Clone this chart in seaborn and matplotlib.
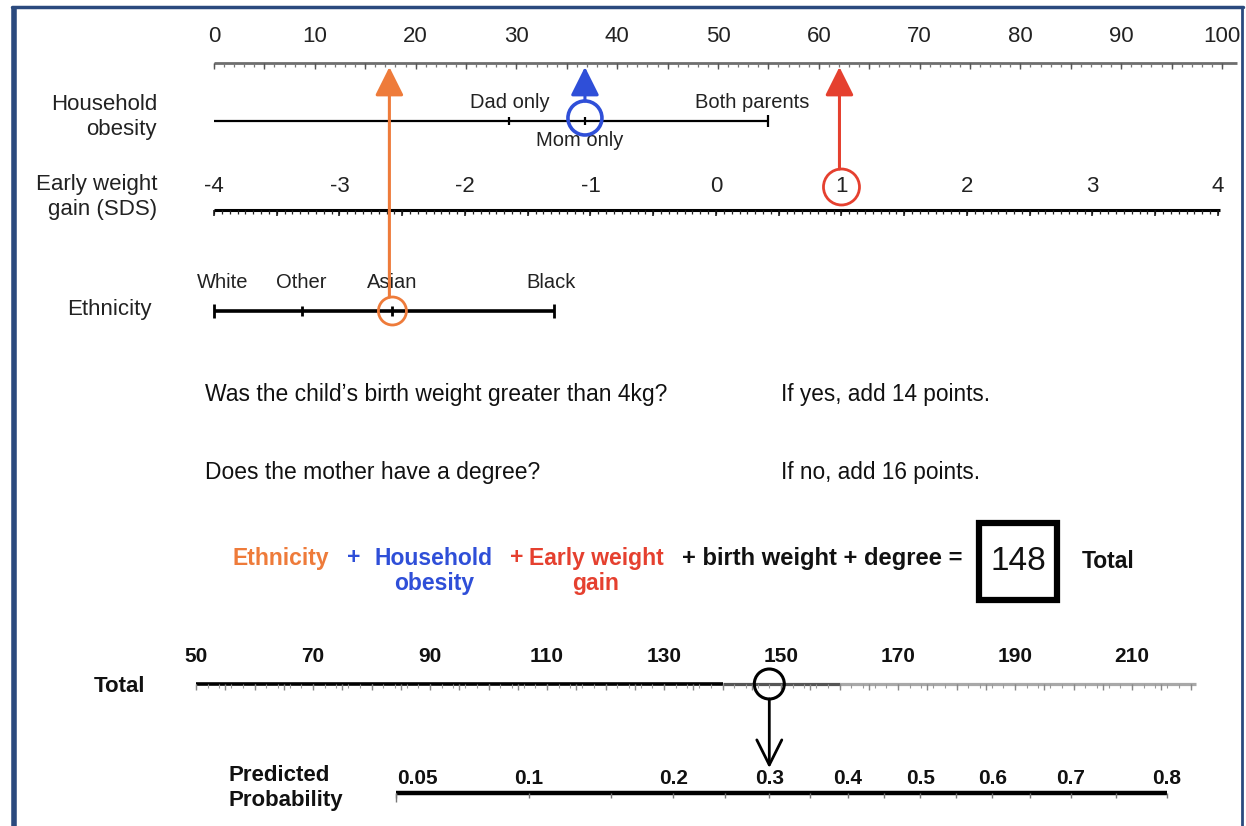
import numpy as np
import pandas as pd
import matplotlib
matplotlib.use("Agg")
import matplotlib.pyplot as plt
from matplotlib.patches import Rectangle, Ellipse
import seaborn as sns

# ---------------- data ----------------
points_ticks = [0, 10, 20, 30, 40, 50, 60, 70, 80, 90, 100]
weight_gain_ticks = [-4, -3, -2, -1, 0, 1, 2, 3, 4]
household_labels = ["Dad only", "Mom only", "Both parents"]
household_points = [29.3, 36.8, 55.0]
ethnicity_labels = ["White", "Other", "Asian", "Black"]
ethnicity_points = [0.0, 8.7, 17.7, 33.7]
questions = ["Was the child\u02bcs birth weight greater than 4kg?",
             "Does the mother have a degree?"]
answers = ["If yes, add 14 points.", "If no, add 16 points."]
total_ticks = [50, 70, 90, 110, 130, 150, 170, 190, 210]
prob_ticks = [0.05, 0.1, 0.2, 0.3, 0.4, 0.5, 0.6, 0.7, 0.8]
selected_household = "Mom only"
selected_ethnicity = "Asian"
selected_weight_gain = 1
total_score = 148

# scale parameters of the nomogram
WG_MIN, WG_MAX, WG_POINTS_MAX = -4, 4, 99.6       # weight gain SDS -> points
LOGIT_A, LOGIT_B = -5.710, 0.032855                # logit(p) = A + B * total
TOTAL_MAX = 221

# ---------------- style ----------------
sns.set_theme(style="white")
plt.rcParams['font.family'] = ['Liberation Sans', 'DejaVu Sans']

ORANGE = "#EE7B3A"
BLUE = "#2F4FD8"
RED = "#E5402F"
NAVY = "#2B4A7E"
FS = 16

W, H = 1246, 826
fig = plt.figure(figsize=(W / 100, H / 100), dpi=100)
fig.patch.set_facecolor("white")

# pixel-layout axes
ax_px = fig.add_axes([0, 0, 1, 1])
ax_px.set_xlim(0, W); ax_px.set_ylim(H, 0); ax_px.axis("off")

# points-scale axes (x in points, y in pixel rows)
PX0, PX_PER_PT = 214, 10.08
def X(px):
    return (px - PX0) / PX_PER_PT
ax = fig.add_axes([0, 0, 1, 1])
ax.set_xlim(X(0), X(W)); ax.set_ylim(H, 0); ax.axis("off")
ax.patch.set_alpha(0)

# total-scale axes
TX0, TX_PER_PT = 196, 5.85
def T(px):
    return 50 + (px - TX0) / TX_PER_PT
axt = fig.add_axes([0, 0, 1, 1])
axt.set_xlim(T(0), T(W)); axt.set_ylim(H, 0); axt.axis("off")
axt.patch.set_alpha(0)

def hline(a, x0, x1, y, color="black", lw=2):
    sns.lineplot(x=[x0, x1], y=[y, y], ax=a, color=color, lw=lw,
                 solid_capstyle="butt")

def wg_to_pts(v):
    return (np.asarray(v, dtype=float) - WG_MIN) / (WG_MAX - WG_MIN) * WG_POINTS_MAX

def prob_to_total(p):
    p = np.asarray(p, dtype=float)
    return (np.log(p / (1 - p)) - LOGIT_A) / LOGIT_B

# ---------------- border ----------------
ax_px.plot([14, 14], [7, H], color=NAVY, lw=4, solid_capstyle="butt")
ax_px.plot([12, 1243], [7, 7], color=NAVY, lw=2.5)
ax_px.plot([1242, 1242], [7, H], color=NAVY, lw=2)

# ---------------- Points axis ----------------
Y_PTS = 63
hline(ax, 0, X(1237), Y_PTS, color="#6e6e6e", lw=2)
minor = np.arange(0, 101, 1)
ax.vlines(minor, Y_PTS, Y_PTS + 4, color="#777777", lw=0.9)
ax.vlines(np.arange(0, 101, 5), Y_PTS, Y_PTS + 6, color="#555555", lw=1)
for v in points_ticks:
    ax.text(v, 37, str(v), ha="center", va="center", fontsize=FS, color="#222222")

# ---------------- Household obesity ----------------
Y_HH = 121
ax_px.text(157, 117, "Household\nobesity", ha="right", va="center", fontsize=FS,
           linespacing=1.3, color="#222222")
hline(ax, 0, max(household_points), Y_HH, lw=1.6)
for lab, v in zip(household_labels, household_points):
    h = 6 if v == max(household_points) else 4
    ax.vlines(v, Y_HH - h, Y_HH + h, color="black", lw=1.6)
hh_label_style = {"Dad only": (0, 103), "Mom only": (-0.5, 141), "Both parents": (-1.6, 103)}
for lab, v in zip(household_labels, household_points):
    dx, y = hh_label_style[lab]
    ax.text(v + dx, y, lab, ha="center", va="center", fontsize=FS - 1.5, color="#222222")

# ---------------- Early weight gain ----------------
Y_WG = 210
ax_px.text(157, 197, "Early weight\ngain (SDS)", ha="right", va="center", fontsize=FS,
           linespacing=1.3, color="#222222")
hline(ax, wg_to_pts(WG_MIN), wg_to_pts(WG_MAX) + 0.2, Y_WG, lw=2.2)
ax.vlines(wg_to_pts(np.arange(WG_MIN, WG_MAX + 1e-9, 0.0625)), Y_WG, Y_WG + 4,
          color="#222222", lw=0.9)
ax.vlines(wg_to_pts(np.arange(WG_MIN, WG_MAX + 1e-9, 0.5)), Y_WG, Y_WG + 6,
          color="#111111", lw=1.1)
for v in weight_gain_ticks:
    ax.text(wg_to_pts(v), 186, str(v), ha="center", va="center", fontsize=FS,
            color="#222222")

# ---------------- Ethnicity ----------------
Y_ETH = 311
ax_px.text(152, 309, "Ethnicity", ha="right", va="center", fontsize=FS, color="#222222")
hline(ax, min(ethnicity_points), max(ethnicity_points), Y_ETH, lw=2.6)
for v in ethnicity_points:
    h = 7 if v in (min(ethnicity_points), max(ethnicity_points)) else 5
    ax.vlines(v, Y_ETH - h, Y_ETH + h, color="black", lw=2)
eth_dx = {"White": 0.9, "Other": 0, "Asian": 0, "Black": -0.3}
for lab, v in zip(ethnicity_labels, ethnicity_points):
    ax.text(v + eth_dx[lab], 283, lab, ha="center", va="center", fontsize=FS - 1.5,
            color="#222222")

# ---------------- selections: circles and arrows ----------------
def circle(a, x, y, r_px, color, lw, px_per_unit):
    a.add_patch(Ellipse((x, y), 2 * r_px / px_per_unit, 2 * r_px, fill=False,
                        ec=color, lw=lw, zorder=5))

def up_arrow(a, x, y0, y1, color):
    a.annotate("", xy=(x, y1), xytext=(x, y0),
               arrowprops=dict(arrowstyle="-|>,head_length=0.8,head_width=0.4",
                               color=color, lw=2.2, shrinkA=0, shrinkB=0,
                               mutation_scale=22), zorder=6)

eth_v = ethnicity_points[ethnicity_labels.index(selected_ethnicity)]
circle(ax, eth_v, Y_ETH, 14, ORANGE, 2, PX_PER_PT)
up_arrow(ax, eth_v - 0.3, Y_ETH - 14, 67, ORANGE)

hh_v = household_points[household_labels.index(selected_household)]
circle(ax, hh_v, 118, 17, BLUE, 2.6, PX_PER_PT)
up_arrow(ax, hh_v, 101, 67, BLUE)

wg_v = float(wg_to_pts(selected_weight_gain))
circle(ax, wg_v, 187, 18, RED, 2, PX_PER_PT)
up_arrow(ax, wg_v - 0.2, 169, 67, RED)

# ---------------- questions ----------------
for q, ans, y in zip(questions, answers, [395, 473]):
    ax_px.text(205, y, q, ha="left", va="center", fontsize=FS + 0.5, color="#111111")
    ax_px.text(781, y, ans, ha="left", va="center", fontsize=FS + 0.3, color="#111111")

# ---------------- equation ----------------
EQ = 16.5
ax_px.text(281, 558, "Ethnicity", ha="center", va="center", fontsize=EQ,
           fontweight="bold", color=ORANGE)
ax_px.text(354, 558, "+", ha="center", va="center", fontsize=EQ,
           fontweight="bold", color=BLUE)
ax_px.text(434, 571, "Household\nobesity", ha="center", va="center", fontsize=EQ,
           fontweight="bold", color=BLUE, linespacing=1.15)
ax_px.text(517, 558, "+", ha="center", va="center", fontsize=EQ,
           fontweight="bold", color=RED)
ax_px.text(596, 571, "Early weight\ngain", ha="center", va="center", fontsize=EQ,
           fontweight="bold", color=RED, linespacing=1.15)
ax_px.text(682, 558, "+ birth weight + degree =", ha="left", va="center",
           fontsize=EQ + 0.6, fontweight="bold", color="#111111")
ax_px.add_patch(Rectangle((979, 523), 78, 77, fill=False, ec="black", lw=4.5))
ax_px.text(1018, 562, str(total_score), ha="center", va="center", fontsize=24,
           color="#111111")
ax_px.text(1082, 562, "Total", ha="left", va="center", fontsize=EQ,
           fontweight="bold", color="#111111")

# ---------------- Total axis ----------------
Y_TOT = 684
ax_px.text(120, 686, "Total", ha="center", va="center", fontsize=FS,
           fontweight="bold", color="#111111")
hline(axt, 50, 140, Y_TOT, color="black", lw=2.6)
hline(axt, 140, 160, Y_TOT, color="#555555", lw=2.3)
hline(axt, 160, TOTAL_MAX, Y_TOT, color="#a8a8a8", lw=2.3)
axt.vlines(np.arange(50, TOTAL_MAX + 0.1, 2), Y_TOT, Y_TOT + 4, color="#999999", lw=0.8)
axt.vlines(np.arange(50, TOTAL_MAX + 0.1, 5), Y_TOT, Y_TOT + 6, color="#888888", lw=1)
for v in total_ticks:
    axt.text(v, 656, str(v), ha="center", va="center", fontsize=FS - 1,
             fontweight="bold", color="#111111")

circle(axt, total_score, Y_TOT, 15, "black", 2.2, TX_PER_PT)
axt.annotate("", xy=(total_score, 768), xytext=(total_score, Y_TOT + 15),
             arrowprops=dict(arrowstyle="->,head_length=0.9,head_width=0.45",
                             color="black", lw=2, shrinkA=0, shrinkB=0,
                             mutation_scale=20), zorder=6)

# ---------------- Probability axis ----------------
Y_PR = 793
ax_px.text(228, 788, "Predicted\nProbability", ha="left", va="center", fontsize=FS,
           fontweight="bold", color="#111111", linespacing=1.3)
p_lo, p_hi = float(prob_to_total(min(prob_ticks))), float(prob_to_total(max(prob_ticks)))
hline(axt, p_lo, p_hi, Y_PR, color="black", lw=3.2)
axt.vlines(prob_to_total(np.arange(0.05, 0.801, 0.05)), Y_PR, Y_PR + 5,
           color="#777777", lw=1)
axt.vlines(p_lo, Y_PR, Y_PR + 9, color="#777777", lw=1)
prob_dx = {0.05: 3.6}
for p in prob_ticks:
    axt.text(float(prob_to_total(p)) + prob_dx.get(p, 0), 779, f"{p:g}",
             ha="center", va="center", fontsize=FS - 1, fontweight="bold",
             color="#111111")

fig.savefig("out.png", dpi=100, facecolor="white")
